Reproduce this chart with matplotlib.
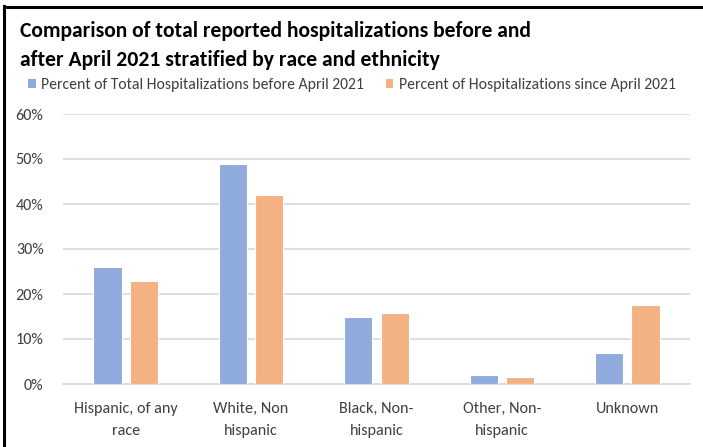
import numpy as np
import matplotlib.pyplot as plt
from matplotlib.lines import Line2D
from matplotlib.patches import Patch
from matplotlib.ticker import PercentFormatter

plt.rcParams['font.family'] = ['Carlito', 'DejaVu Sans']

categories = ["Hispanic, of any\nrace", "White, Non\nhispanic", "Black, Non-\nhispanic",
              "Other, Non-\nhispanic", "Unknown"]
before = [25.9, 49.0, 14.8, 1.9, 6.9]
since = [22.9, 42.1, 15.7, 1.5, 17.5]
series_names = ["Percent of Total Hospitalizations before April 2021",
                "Percent of Hospitalizations since April 2021"]

blue = "#8FAADC"
orange = "#F4B183"
grey = "#404040"

fig = plt.figure(figsize=(7.03, 4.47), dpi=100)
ax = fig.add_axes([63 / 703, 63 / 447, 627 / 703, 270 / 447])

x = np.arange(len(categories))
w = 0.225
off = 0.29 / 2
ax.bar(x - off, before, w, color=blue, edgecolor="white", linewidth=0.8, zorder=3)
ax.bar(x + off, since, w, color=orange, edgecolor="white", linewidth=0.8, zorder=3)

ax.set_xlim(-0.5, len(categories) - 0.5)
ax.set_ylim(0, 60)
ax.set_yticks(np.arange(0, 61, 10))
ax.yaxis.set_major_formatter(PercentFormatter(decimals=0))
ax.grid(axis="y", color="#d9d9d9", linewidth=1.2, zorder=0)
for s in ["top", "right", "left"]:
    ax.spines[s].set_visible(False)
ax.spines["bottom"].set_color("#d9d9d9")
ax.spines["bottom"].set_linewidth(1.2)
ax.tick_params(axis="both", length=0, labelsize=11.6, colors=grey)
ax.tick_params(axis="x", pad=13)
ax.tick_params(axis="y", pad=14)
ax.set_xticks(x)
ax.set_xticklabels(categories, linespacing=1.7)

fig.text(20 / 703, 1 - 31 / 447, "Comparison of total reported hospitalizations before and",
         fontsize=15.6, fontweight="bold", va="center", color="black")
fig.text(20 / 703, 1 - 60 / 447, "after April 2021 stratified by race and ethnicity",
         fontsize=15.6, fontweight="bold", va="center", color="black")

handles = [Patch(facecolor=blue, edgecolor="none"), Patch(facecolor=orange, edgecolor="none")]
fig.legend(handles, series_names, loc="center left", bbox_to_anchor=(28 / 703, 1 - 85 / 447),
           ncol=2, frameon=False, fontsize=11.3, handlelength=0.48, handleheight=0.48,
           handletextpad=0.38, columnspacing=1.34, borderpad=0, borderaxespad=0, labelcolor=grey)

fig.add_artist(Line2D([4 / 703, 4 / 703], [0, 1 - 6 / 447], color="black", linewidth=2.2))
fig.add_artist(Line2D([4 / 703, 1], [1 - 7 / 447, 1 - 7 / 447], color="black", linewidth=2.2))

fig.savefig("out.png", dpi=100)
